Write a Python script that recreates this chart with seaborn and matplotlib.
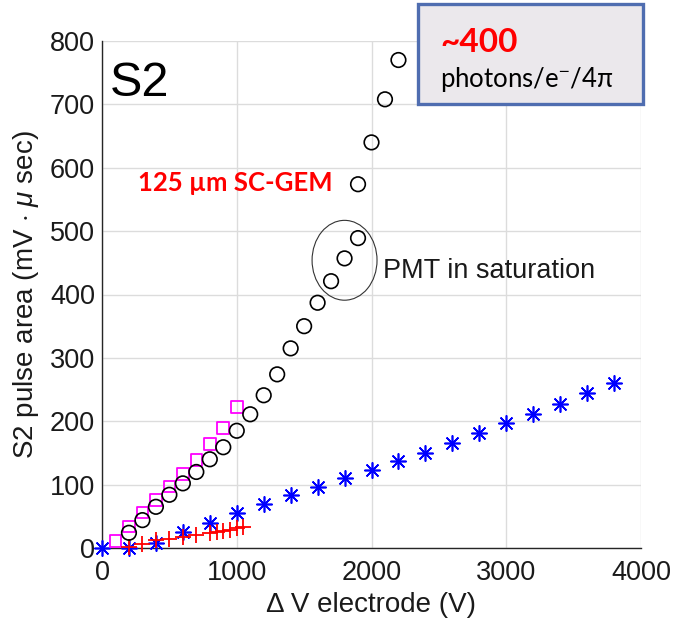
import numpy as np
import pandas as pd
import matplotlib
matplotlib.use("Agg")
import matplotlib.pyplot as plt
import seaborn as sns
from matplotlib.patches import Ellipse, FancyBboxPatch

# ---- data ----
circ_x = [200, 300, 400, 500, 600, 700, 800, 900, 1000, 1100, 1200, 1300, 1400,
          1500, 1600, 1700, 1800, 1900, 1900, 2000, 2100, 2200]
circ_y = [24, 44, 65, 84, 102, 120, 140, 159, 185, 211, 241, 274, 315,
          350, 387, 421, 457, 489, 574, 640, 708, 770]

sq_x = [100, 200, 300, 400, 500, 600, 700, 800, 900, 1000]
sq_y = [11, 34, 56, 76, 97, 117, 139, 164, 189, 222]

plus_x = [200, 300, 400, 500, 600, 700, 800, 850, 900, 950, 1000, 1050]
plus_y = [2, 7, 12, 14, 18, 21, 24, 26, 27, 29, 31, 33]

star_x = [0, 200, 400, 600, 800, 1000, 1200, 1400, 1600, 1800, 2000, 2200,
          2400, 2600, 2800, 3000, 3200, 3400, 3600, 3800]
star_y = [0, 0, 8, 25, 39, 55, 69, 83, 97, 110, 123, 137,
          150, 165, 181, 197, 211, 228, 244, 261]

x_ticks = [0, 1000, 2000, 3000, 4000]
y_ticks = [0, 100, 200, 300, 400, 500, 600, 700, 800]

sns.set_theme(style="white")
plt.rcParams["font.family"] = ["Liberation Sans", "DejaVu Sans"]
plt.rcParams["mathtext.fontset"] = "custom"
plt.rcParams["mathtext.rm"] = "Liberation Sans"
plt.rcParams["mathtext.it"] = "Liberation Sans:italic"

fig = plt.figure(figsize=(6.74, 6.31), dpi=100)
ax = fig.add_axes([102/674, 1-548/631, (641-102)/674, (548-41)/631])

sns.scatterplot(x=star_x, y=star_y, ax=ax, marker=(8, 2, 0), s=120,
                color="#0000ff", linewidth=1.2, clip_on=False, zorder=3)
sns.scatterplot(x=plus_x, y=plus_y, ax=ax, marker="+", s=130,
                color="#ff0000", linewidth=1.3, clip_on=False, zorder=4)
sns.scatterplot(x=sq_x, y=sq_y, ax=ax, marker="s", s=70,
                facecolor="none", edgecolor="#ff00ff", linewidth=1.3,
                clip_on=False, zorder=3)
sns.scatterplot(x=circ_x, y=circ_y, ax=ax, marker="o", s=110,
                facecolor="none", edgecolor="black", linewidth=1.2,
                clip_on=False, zorder=5)

ax.set_xlim(0, 4000)
ax.set_ylim(0, 800)
ax.set_xticks(x_ticks)
ax.set_yticks(y_ticks)
ax.set_xticklabels([str(v) for v in x_ticks])
ax.set_yticklabels([str(v) for v in y_ticks])
ax.grid(True, color="#dcdcdc", linewidth=1.0)
ax.set_axisbelow(True)
for s in ["top", "right"]:
    ax.spines[s].set_visible(False)
for s in ["left", "bottom"]:
    ax.spines[s].set_color("#262626")
    ax.spines[s].set_linewidth(1.0)
ax.tick_params(axis="both", direction="in", length=4, width=1,
               colors="#262626", labelsize=19.5)
ax.tick_params(axis="x", pad=9)
ax.tick_params(axis="y", pad=5)
ax.tick_params(axis="both", labelcolor="#1a1a1a")

ax.set_xlabel("Δ V electrode (V)", fontsize=20, color="#1a1a1a", labelpad=4)
ax.set_ylabel(r"S2 pulse area (mV $\cdot$ $\mu$ sec)", fontsize=20,
              color="#1a1a1a", labelpad=6)

# annotations
ax.text(60, 713, "S2", fontsize=35, ha="left", va="baseline", color="black")
ax.text(987, 576, "125 µm SC-GEM", fontsize=18.5, fontweight="bold",
        color="#ff0000", ha="center", va="center",
        family=["Lato", "DejaVu Sans"])
ax.add_patch(Ellipse((1800, 454), 482, 126, fill=False,
                     edgecolor="#333333", linewidth=0.8, zorder=6))
ax.text(2085, 437, "PMT in saturation", fontsize=19.5, ha="left",
        va="center", color="#1a1a1a")

# box in figure coordinates
box = FancyBboxPatch((418/674, 1-104/631), 225/674, 100/631,
                     boxstyle="square,pad=0", transform=fig.transFigure,
                     facecolor="#ebe8ec", edgecolor="#4f6db0",
                     linewidth=2.4, zorder=10)
fig.patches.append(box)
fig.text(440/674, 1-52/631, "~400", fontsize=24, fontweight="bold",
         color="#ff0000", ha="left", va="baseline",
         family=["Lato", "DejaVu Sans"], zorder=11)
fig.text(440/674, 1-87/631, r"photons/e$^{-}$/4π", fontsize=18.5,
         color="black", ha="left", va="baseline",
         family=["Lato", "DejaVu Sans"], zorder=11)

fig.savefig("out.png", dpi=100)
